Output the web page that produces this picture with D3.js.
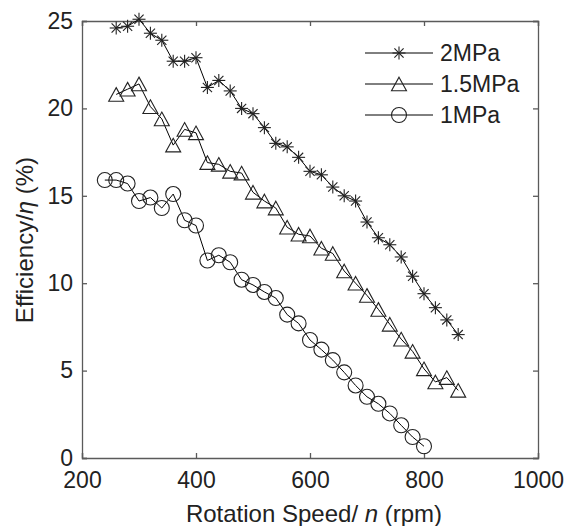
<!DOCTYPE html>
<html><head><meta charset="utf-8">
<script src="https://cdn.jsdelivr.net/npm/d3@7"></script>
<style>body{margin:0;background:#fff}svg{display:block}</style>
</head><body><svg id="c" width="571" height="526"></svg>
<script>
const xTicks = [200, 400, 600, 800, 1000];
const yTicks = [0, 5, 10, 15, 20, 25];
const seriesNames = ["2MPa", "1.5MPa", "1MPa"];
const rpm2 = [260,280,300,320,340,360,380,400,420,440,460,480,500,520,540,560,580,600,620,640,660,680,700,720,740,760,780,800,820,840,860];
const eff2 = [24.6,24.7,25.1,24.3,23.9,22.7,22.7,22.9,21.2,21.6,21.0,20.0,19.7,18.9,18.0,17.8,17.2,16.4,16.2,15.5,15.0,14.7,13.5,12.6,12.2,11.5,10.4,9.4,8.6,7.9,7.06];
const rpm15 = [260,280,300,320,340,360,380,400,420,440,460,480,500,520,540,560,580,600,620,640,660,680,700,720,740,760,780,800,820,840,860];
const eff15 = [20.8,21.1,21.4,20.1,19.4,17.9,18.8,18.6,16.9,16.8,16.4,16.3,15.2,14.7,14.3,13.2,12.8,12.7,12.0,11.7,10.7,10.0,9.3,8.5,7.65,6.8,6.1,5.1,4.35,4.6,3.87];
const rpm1 = [240,260,280,300,320,340,360,380,400,420,440,460,480,500,520,540,560,580,600,620,640,660,680,700,720,740,760,780,800];
const eff1 = [15.9,15.9,15.7,14.7,14.9,14.3,15.1,13.6,13.3,11.3,11.6,11.2,10.2,9.9,9.5,9.15,8.2,7.7,6.75,6.2,5.6,4.9,4.15,3.5,3.1,2.55,1.87,1.2,0.67];

const svg = d3.select("#c");
const L = 82, R = 538, T = 21, B = 458;
const x = d3.scaleLinear().domain([200, 1000]).range([L, R]);
const y = d3.scaleLinear().domain([0, 25]).range([B, T]);
const font = "'Liberation Sans', Arial, sans-serif";
const axisColor = "#5a5a5a";
const markColor = "#222";
const fs = 23;

// markers
function star(g){
  const r = 6.5;
  for (let i = 0; i < 4; i++) {
    const a = i * Math.PI / 4;
    g.append("line").attr("x1", -r*Math.cos(a)).attr("y1", -r*Math.sin(a))
      .attr("x2", r*Math.cos(a)).attr("y2", r*Math.sin(a))
      .attr("stroke", markColor).attr("stroke-width", 1.1);
  }
}
function tri(g){
  const w = 7.5, h = 6.8;
  g.append("path").attr("d", `M0,${-h}L${w},${h}L${-w},${h}Z`)
    .attr("fill", "none").attr("stroke", markColor).attr("stroke-width", 1.1);
}
function circ(g){
  g.append("circle").attr("r", 7.5).attr("fill", "none")
    .attr("stroke", markColor).attr("stroke-width", 1.1);
}
const series = [
  {name: seriesNames[0], xs: rpm2, ys: eff2, marker: star},
  {name: seriesNames[1], xs: rpm15, ys: eff15, marker: tri},
  {name: seriesNames[2], xs: rpm1, ys: eff1, marker: circ}
];

// axes box
const fmt = d3.format("d");
const gx = svg.append("g").attr("transform", `translate(0,${B})`)
  .call(d3.axisBottom(x).tickValues(xTicks).tickSize(-5).tickPadding(14).tickFormat(fmt));
const gxt = svg.append("g").attr("transform", `translate(0,${T})`)
  .call(d3.axisTop(x).tickValues(xTicks).tickSize(-5).tickFormat(""));
const gy = svg.append("g").attr("transform", `translate(${L},0)`)
  .call(d3.axisLeft(y).tickValues(yTicks).tickSize(-5).tickPadding(9).tickFormat(fmt));
const gyr = svg.append("g").attr("transform", `translate(${R},0)`)
  .call(d3.axisRight(y).tickValues(yTicks).tickSize(-5).tickFormat(""));
[gx, gxt, gy, gyr].forEach(g => {
  g.selectAll("path,line").attr("stroke", axisColor).attr("stroke-width", 1.3);
  g.selectAll("text").attr("font-family", font).attr("font-size", fs).attr("fill", "#222");
});

// lines and markers
const line = d3.line().x(d => x(d[0])).y(d => y(d[1]));
series.forEach(s => {
  const pts = s.xs.map((v, i) => [v, s.ys[i]]);
  svg.append("path").datum(pts).attr("d", line).attr("fill", "none")
    .attr("stroke", "#000").attr("stroke-width", 1);
  pts.forEach(p => {
    const g = svg.append("g").attr("transform", `translate(${x(p[0])},${y(p[1])})`);
    s.marker(g);
  });
});

// legend
const lg = svg.append("g");
series.forEach((s, i) => {
  const ly = 53 + i * 31;
  lg.append("line").attr("x1", 365).attr("x2", 433).attr("y1", ly).attr("y2", ly)
    .attr("stroke", "#000").attr("stroke-width", 1);
  s.marker(lg.append("g").attr("transform", `translate(399,${ly})`));
  lg.append("text").attr("x", 440).attr("y", ly).attr("dy", "0.35em")
    .attr("font-family", font).attr("font-size", fs).attr("fill", "#222").text(s.name);
});

// axis labels
const xl = svg.append("text").attr("x", 314).attr("y", 522)
  .attr("text-anchor", "middle").attr("font-family", font).attr("font-size", 24).attr("fill", "#222");
xl.append("tspan").text("Rotation Speed/ ");
xl.append("tspan").attr("font-style", "italic").text("n");
xl.append("tspan").text(" (rpm)");
const yl = svg.append("text").attr("transform", "translate(33,240) rotate(-90)")
  .attr("text-anchor", "middle").attr("font-family", font).attr("font-size", 24).attr("fill", "#222");
yl.append("tspan").text("Efficiency/");
yl.append("tspan").attr("font-style", "italic").text("η");
yl.append("tspan").text(" (%)");
</script></body></html>
